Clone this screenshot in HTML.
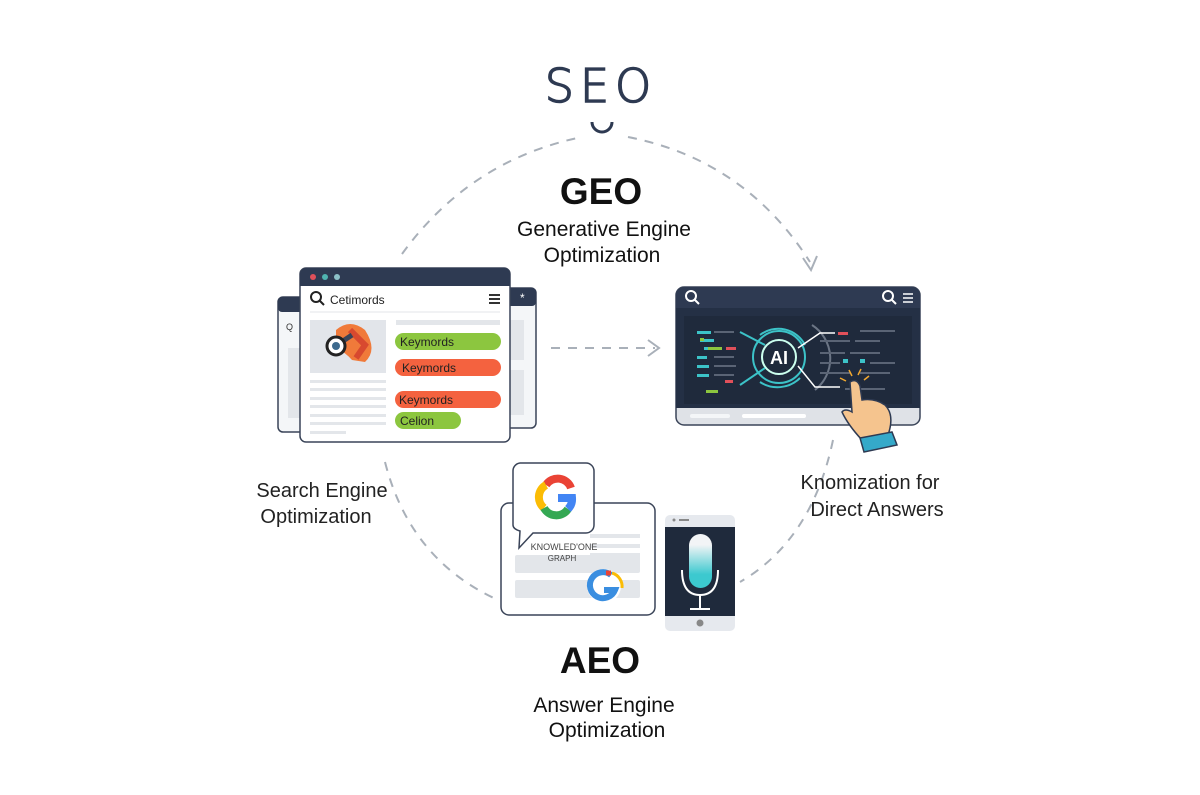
<!DOCTYPE html>
<html><head><meta charset="utf-8"><style>
body{margin:0;background:#fff;}
svg{display:block}
text{font-family:"Liberation Sans",sans-serif;}
</style></head><body>
<svg width="1200" height="795" viewBox="0 0 1200 795" xmlns="http://www.w3.org/2000/svg">
<rect width="1200" height="795" fill="#fff"/>
<g fill="none" stroke="#a9b0b9" stroke-width="2" stroke-dasharray="9 8">
<path d="M402,254 Q470,160 582,137"/>
<path d="M628,137 Q745,160 810,262"/>
<path d="M385,462 Q410,560 498,600"/>
<path d="M833,440 Q812,540 740,582"/>
<path d="M551,348 L655,348"/>
</g>
<path d="M803,258 L811,270 L817,256" fill="none" stroke="#a9b0b9" stroke-width="2"/>
<path d="M648,340 L659,348 L648,356" fill="none" stroke="#a9b0b9" stroke-width="2"/>
<text x="601" y="102" text-anchor="middle" font-size="46" fill="#2e3a52" stroke="#2e3a52" stroke-width="1.5" letter-spacing="6" style="font-family:'DejaVu Sans',sans-serif;font-weight:300">SEO</text>
<path d="M592,122 A10,10 0 1 0 612,122" fill="none" stroke="#2e3a52" stroke-width="3"/>
<text x="601" y="204" text-anchor="middle" font-size="37" font-weight="bold" fill="#111">GEO</text>
<text x="604" y="236" text-anchor="middle" font-size="21" fill="#111">Generative Engine</text>
<text x="602" y="262" text-anchor="middle" font-size="21" fill="#111">Optimization</text>
<rect x="278" y="297" width="40" height="135" rx="5" fill="#f4f6f8" stroke="#3a4458" stroke-width="1.5"/>
<rect x="278" y="297" width="40" height="15" rx="4" fill="#2e3a52"/>
<text x="286" y="330" font-size="9" fill="#333">Q</text>
<rect x="288" y="348" width="20" height="70" fill="#e3e6ea"/>
<rect x="500" y="288" width="36" height="140" rx="5" fill="#f4f6f8" stroke="#3a4458" stroke-width="1.5"/>
<rect x="500" y="288" width="36" height="18" rx="4" fill="#2e3a52"/>
<text x="520" y="302" font-size="12" fill="#fff">*</text>
<rect x="508" y="320" width="16" height="40" fill="#e3e6ea"/>
<rect x="508" y="370" width="16" height="45" fill="#e3e6ea"/>
<rect x="300" y="268" width="210" height="174" rx="6" fill="#fff" stroke="#3a4458" stroke-width="1.5"/>
<path d="M300,286 V274 a6,6 0 0 1 6,-6 H504 a6,6 0 0 1 6,6 V286 Z" fill="#2e3a52"/>
<circle cx="313" cy="277" r="3" fill="#e0505a"/><circle cx="325" cy="277" r="3" fill="#4fb3b0"/><circle cx="337" cy="277" r="3" fill="#8cc1c8"/>
<circle cx="316" cy="297" r="5" fill="none" stroke="#222" stroke-width="2"/><line x1="320" y1="301" x2="324" y2="305" stroke="#222" stroke-width="2"/>
<text x="330" y="304" font-size="12" fill="#222">Cetimords</text>
<g stroke="#333" stroke-width="2"><line x1="489" y1="295" x2="500" y2="295"/><line x1="489" y1="299" x2="500" y2="299"/><line x1="489" y1="303" x2="500" y2="303"/></g>
<line x1="310" y1="312" x2="500" y2="312" stroke="#e3e6ea"/>
<rect x="310" y="320" width="76" height="53" fill="#e2e5ea"/>
<path d="M336,330 Q350,318 365,330 Q378,350 365,362 L352,360 Q345,352 336,348 Z" fill="#f07a3a"/>
<path d="M350,330 L365,345 L356,358" fill="none" stroke="#d8492f" stroke-width="6"/>
<line x1="337" y1="345" x2="352" y2="335" stroke="#3a4458" stroke-width="5"/>
<circle cx="336" cy="346" r="9" fill="#fff" stroke="#222" stroke-width="3"/><circle cx="336" cy="346" r="4" fill="#3d6a8e"/>
<rect x="396" y="320" width="104" height="5" fill="#e3e6ea"/>
<rect x="395" y="333" width="106" height="17" rx="8.5" fill="#8cc63f"/>
<text x="400" y="346" font-size="12" fill="#222">Keymords</text>
<rect x="395" y="359" width="106" height="17" rx="8.5" fill="#f4623f"/>
<text x="402" y="372" font-size="12" fill="#222">Keymords</text>
<rect x="395" y="391" width="106" height="17" rx="8.5" fill="#f4623f"/>
<text x="399" y="404" font-size="12" fill="#222">Keymords</text>
<rect x="395" y="412" width="66" height="17" rx="8.5" fill="#8cc63f"/>
<text x="400" y="425" font-size="12" fill="#222">Celion</text>
<g fill="#e3e6ea"><rect x="310" y="380" width="76" height="3"/><rect x="310" y="388" width="76" height="3"/><rect x="310" y="397" width="76" height="3"/><rect x="310" y="405" width="76" height="3"/><rect x="310" y="414" width="76" height="3"/><rect x="310" y="422" width="76" height="3"/><rect x="310" y="431" width="36" height="3"/></g>
<rect x="676" y="287" width="244" height="138" rx="8" fill="#dfe2e7" stroke="#3a4458" stroke-width="1.5"/>
<path d="M676,308 V295 a8,8 0 0 1 8,-8 H912 a8,8 0 0 1 8,8 V308 Z" fill="#2e3a52"/>
<rect x="676" y="308" width="244" height="100" fill="#243045"/>
<rect x="684" y="316" width="228" height="88" fill="#1f2a3c"/>
<circle cx="691" cy="296" r="5" fill="none" stroke="#fff" stroke-width="2"/><line x1="695" y1="300" x2="699" y2="304" stroke="#fff" stroke-width="2"/>
<circle cx="888" cy="296" r="5" fill="none" stroke="#fff" stroke-width="2"/><line x1="892" y1="300" x2="896" y2="304" stroke="#fff" stroke-width="2"/>
<g stroke="#fff" stroke-width="1.5"><line x1="903" y1="294" x2="913" y2="294"/><line x1="903" y1="298" x2="913" y2="298"/><line x1="903" y1="302" x2="913" y2="302"/></g>
<g fill="none" stroke="#3cc3c8" stroke-width="2">
<circle cx="779" cy="357" r="17" stroke="#cfe"/>
<circle cx="779" cy="357" r="26"/>
<path d="M760,335 A30,30 0 0 1 805,345"/>
<path d="M800,378 A32,32 0 0 1 760,382"/>
<path d="M740,332 L765,345 M740,385 L765,368"/>
</g>
<path d="M812,325 A40,40 0 0 1 815,390" fill="none" stroke="#6b7585" stroke-width="2"/>
<text x="779" y="364" text-anchor="middle" font-size="18" font-weight="bold" fill="#fff">AI</text>
<path d="M798,348 L820,333 H835 M798,366 L815,387 H840" fill="none" stroke="#fff" stroke-width="1.5"/>
<g fill="#3cc3c8"><rect x="697" y="331" width="14" height="3"/><rect x="700" y="339" width="14" height="3"/><rect x="704" y="347" width="10" height="3"/><rect x="697" y="356" width="10" height="3"/><rect x="697" y="365" width="12" height="3"/><rect x="697" y="374" width="12" height="3"/><rect x="860" y="359" width="5" height="4"/><rect x="843" y="359" width="5" height="4"/></g>
<g fill="#8cc63f"><rect x="700" y="338" width="4" height="3"/><rect x="708" y="347" width="14" height="3"/><rect x="706" y="390" width="12" height="3"/></g>
<g fill="#e0505a"><rect x="726" y="347" width="10" height="3"/><rect x="725" y="380" width="8" height="3"/><rect x="838" y="332" width="10" height="3"/></g>
<g fill="#5a6475"><rect x="714" y="331" width="20" height="2"/><rect x="714" y="356" width="20" height="2"/><rect x="714" y="365" width="22" height="2"/><rect x="714" y="374" width="20" height="2"/><rect x="820" y="340" width="30" height="2"/><rect x="855" y="340" width="25" height="2"/><rect x="820" y="352" width="25" height="2"/><rect x="850" y="352" width="30" height="2"/><rect x="820" y="362" width="20" height="2"/><rect x="870" y="362" width="25" height="2"/><rect x="820" y="372" width="30" height="2"/><rect x="860" y="372" width="30" height="2"/><rect x="845" y="388" width="40" height="2"/><rect x="860" y="330" width="35" height="2"/></g>
<rect x="690" y="414" width="40" height="4" rx="2" fill="#f4f6f8"/>
<rect x="742" y="414" width="64" height="4" rx="2" fill="#fff"/>
<g stroke="#2e3a52" stroke-width="1.5">
<path d="M850,382 Q857,378 860,386 L862,400 Q875,398 885,405 Q895,415 888,435 L862,440 Q848,425 842,412 Q845,408 852,412 Z" fill="#f5c48e"/>
<path d="M860,438 L892,432 L897,445 L864,452 Z" fill="#35a9c9"/>
</g>
<g stroke="#f0a830" stroke-width="1.5"><line x1="852" y1="376" x2="849" y2="370"/><line x1="858" y1="375" x2="861" y2="369"/><line x1="846" y1="381" x2="840" y2="378"/><line x1="864" y1="380" x2="869" y2="376"/></g>
<text x="322" y="497" text-anchor="middle" font-size="20" fill="#222">Search Engine</text>
<text x="316" y="523" text-anchor="middle" font-size="20" fill="#222">Optimization</text>
<text x="870" y="489" text-anchor="middle" font-size="20" fill="#222">Knomization for</text>
<text x="877" y="516" text-anchor="middle" font-size="20" fill="#222">Direct Answers</text>
<rect x="501" y="503" width="154" height="112" rx="8" fill="#fff" stroke="#3a4458" stroke-width="1.5"/>
<g fill="#e3e6ea"><rect x="590" y="534" width="50" height="4"/><rect x="590" y="544" width="50" height="4"/><rect x="590" y="553" width="50" height="4"/><rect x="515" y="555" width="125" height="18" rx="2"/><rect x="515" y="580" width="125" height="18" rx="2"/></g>
<path d="M520,463 H586 a8,8 0 0 1 8,8 V525 a8,8 0 0 1 -8,8 H533 L519,548 L520,531 Q513,529 513,525 V471 a8,8 0 0 1 7,-8 Z" fill="#fff" stroke="#3a4458" stroke-width="1.5"/>
<g fill="none" stroke-width="8">
<path d="M571,488 A14,14 0 0 0 546,485" stroke="#ea4335"/>
<path d="M546,485 A14,14 0 0 0 544,508" stroke="#fbbc05"/>
<path d="M544,508 A14,14 0 0 0 568,509" stroke="#34a853"/>
<path d="M568,509 A14,14 0 0 0 572,498 H558" stroke="#4285f4"/>
</g>
<text x="564" y="550" text-anchor="middle" font-size="9" fill="#444">KNOWLED'ONE</text>
<text x="562" y="561" text-anchor="middle" font-size="8" fill="#444">GRAPH</text>
<circle cx="604" cy="586" r="17" fill="#fff"/>
<path d="M611,575 A13,13 0 1 0 615,590 H604" fill="none" stroke="#3a8ee0" stroke-width="6"/>
<path d="M606,573 L611,573" stroke="#ea4335" stroke-width="5"/>
<path d="M612,573 A14,14 0 0 1 622,588" fill="none" stroke="#fbbc05" stroke-width="3"/>
<rect x="665" y="515" width="70" height="116" rx="5" fill="#e6e9ee"/>
<rect x="665" y="527" width="70" height="89" fill="#1f2a3c"/>
<circle cx="674" cy="520" r="1.5" fill="#888"/><rect x="679" y="519" width="10" height="2" fill="#888"/>
<circle cx="700" cy="623" r="3.5" fill="#888"/>
<defs><linearGradient id="mic" x1="0" y1="0" x2="0" y2="1"><stop offset="0.2" stop-color="#f2f4f6"/><stop offset="0.75" stop-color="#3cc9cf"/></linearGradient></defs>
<rect x="689" y="534" width="23" height="54" rx="11.5" fill="url(#mic)"/>
<path d="M682,570 Q682,595 700,595 Q718,595 718,570" fill="none" stroke="#fff" stroke-width="2"/>
<line x1="700" y1="595" x2="700" y2="608" stroke="#fff" stroke-width="2"/>
<line x1="690" y1="609" x2="710" y2="609" stroke="#fff" stroke-width="2"/>
<text x="600" y="673" text-anchor="middle" font-size="37" font-weight="bold" fill="#111">AEO</text>
<text x="604" y="712" text-anchor="middle" font-size="21" fill="#111">Answer Engine</text>
<text x="607" y="737" text-anchor="middle" font-size="21" fill="#111">Optimization</text>
</svg>
</body></html>
